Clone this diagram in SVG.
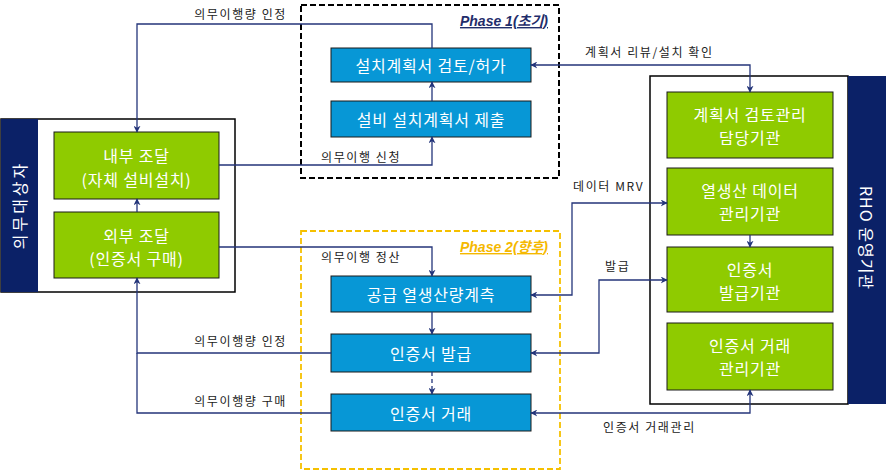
<svg xmlns="http://www.w3.org/2000/svg" width="886" height="471" viewBox="0 0 886 471">
<defs>
<style>
.blue{fill:#0797D6;stroke:#1a1a1a;stroke-width:1}
.green{fill:#8FCB00;stroke:#1a1a1a;stroke-width:1}
.navy{fill:#0B2167}
.outer{fill:#fff;stroke:#000;stroke-width:1.5}
.bt{font-family:"Noto Sans CJK KR","Noto Sans",sans-serif;font-size:16px;fill:#fff;text-anchor:middle;dominant-baseline:central;letter-spacing:0.8px}
.lb{font-family:"Noto Sans CJK KR","Noto Sans",sans-serif;font-size:12px;fill:#222;letter-spacing:1.6px}
.ph{font-family:"Liberation Sans","Noto Sans CJK KR",sans-serif;font-size:14px;font-weight:bold;font-style:italic;text-decoration:underline;text-anchor:end}
.c{fill:none;stroke:#24357A;stroke-width:1.3}
</style>
<marker id="ah" viewBox="0 0 10 10" refX="9" refY="5" markerWidth="7" markerHeight="7" markerUnits="userSpaceOnUse" orient="auto-start-reverse">
<path d="M0,0 L10,5 L0,10 L3,5 Z" fill="#24357A"/>
</marker>
</defs>
<rect width="886" height="471" fill="#fff"/>

<g id="phase1">
<rect x="301" y="5" width="258" height="173" fill="none" stroke="#000" stroke-width="2" stroke-dasharray="6,3"/>
<text class="ph" x="548" y="26" fill="#1F2D6B">Phase 1(초기)</text>
</g>
<g id="phase2">
<rect x="301" y="231" width="259" height="238" fill="none" stroke="#F5C000" stroke-width="1.8" stroke-dasharray="6,3"/>
<text class="ph" x="548" y="252" fill="#F5B800">Phase 2(향후)</text>
</g>

<g id="obligor">
<rect class="outer" x="1" y="119" width="234" height="173"/>
<rect class="navy" x="1" y="119" width="37" height="173"/>
<text class="bt" transform="translate(19,205) rotate(-90)" style="letter-spacing:3px">의무대상자</text>
</g>
<g id="internal">
<rect class="green" x="54" y="132" width="165" height="67"/>
<text class="bt" x="136.5" y="155">내부 조달</text>
<text class="bt" x="136.5" y="179">(자체 설비설치)</text>
</g>
<g id="external">
<rect class="green" x="54" y="212" width="165" height="66"/>
<text class="bt" x="136.5" y="235">외부 조달</text>
<text class="bt" x="136.5" y="258">(인증서 구매)</text>
</g>

<g id="review">
<rect class="blue" x="331" y="48" width="200" height="34"/>
<text class="bt" x="431" y="65">설치계획서 검토/허가</text>
</g>
<g id="submit">
<rect class="blue" x="331" y="101" width="200" height="36"/>
<text class="bt" x="431" y="119">설비 설치계획서 제출</text>
</g>
<g id="measure">
<rect class="blue" x="331" y="276" width="200" height="36"/>
<text class="bt" x="431" y="294">공급 열생산량계측</text>
</g>
<g id="issue">
<rect class="blue" x="331" y="334" width="200" height="38"/>
<text class="bt" x="431" y="353">인증서 발급</text>
</g>
<g id="trade">
<rect class="blue" x="331" y="394" width="200" height="37"/>
<text class="bt" x="431" y="412.5">인증서 거래</text>
</g>

<g id="rho">
<rect class="outer" x="650" y="76" width="198" height="328"/>
<rect class="navy" x="848" y="76" width="38" height="328"/>
<text class="bt" transform="translate(867,238) rotate(90)" style="letter-spacing:1px">RHO 운영기관</text>
</g>
<g id="planAgency">
<rect class="green" x="667" y="92" width="166" height="66"/>
<text class="bt" x="750" y="114">계획서 검토관리</text>
<text class="bt" x="750" y="137">담당기관</text>
</g>
<g id="dataAgency">
<rect class="green" x="667" y="168" width="166" height="67"/>
<text class="bt" x="750" y="190">열생산 데이터</text>
<text class="bt" x="750" y="213">관리기관</text>
</g>
<g id="issueAgency">
<rect class="green" x="667" y="247" width="166" height="65"/>
<text class="bt" x="750" y="269">인증서</text>
<text class="bt" x="750" y="292">발급기관</text>
</g>
<g id="tradeAgency">
<rect class="green" x="667" y="323" width="166" height="67"/>
<text class="bt" x="750" y="345">인증서 거래</text>
<text class="bt" x="750" y="368">관리기관</text>
</g>

<g id="connectors">
<path class="c" d="M432,48 V24 H137 V132" marker-end="url(#ah)"/>
<path class="c" d="M219,165 H432 V137" marker-end="url(#ah)"/>
<path class="c" d="M432,101 V82" marker-end="url(#ah)"/>
<path class="c" d="M137,212 V199" marker-end="url(#ah)"/>
<path class="c" d="M531,65 H750 V92" marker-start="url(#ah)" marker-end="url(#ah)"/>
<path class="c" d="M219,247 H432 V276" marker-end="url(#ah)"/>
<path class="c" d="M432,312 V334" marker-end="url(#ah)"/>
<path class="c" d="M432,372 V394" stroke-dasharray="4,3" marker-end="url(#ah)"/>
<path class="c" d="M331,353 H137 V278" marker-end="url(#ah)"/>
<path class="c" d="M331,413 H137 V353"/>
<path class="c" d="M531,295 H572 V203 H667" marker-start="url(#ah)" marker-end="url(#ah)"/>
<path class="c" d="M531,353 H599 V280 H667" marker-start="url(#ah)" marker-end="url(#ah)"/>
<path class="c" d="M531,413 H750 V390" marker-start="url(#ah)" marker-end="url(#ah)"/>
<path class="c" d="M750,235 V247" marker-end="url(#ah)"/>
</g>

<g id="labels">
<text class="lb" x="287" y="19" text-anchor="end">의무이행량 인정</text>
<text class="lb" x="321" y="162">의무이행 신청</text>
<text class="lb" x="321" y="262">의무이행 정산</text>
<text class="lb" x="287" y="346" text-anchor="end">의무이행량 인정</text>
<text class="lb" x="287" y="406" text-anchor="end">의무이행량 구매</text>
<text class="lb" x="585" y="57">계획서 리뷰/설치 확인</text>
<text class="lb" x="573" y="191">데이터 MRV</text>
<text class="lb" x="605" y="271">발급</text>
<text class="lb" x="603" y="432">인증서 거래관리</text>
</g>
</svg>
